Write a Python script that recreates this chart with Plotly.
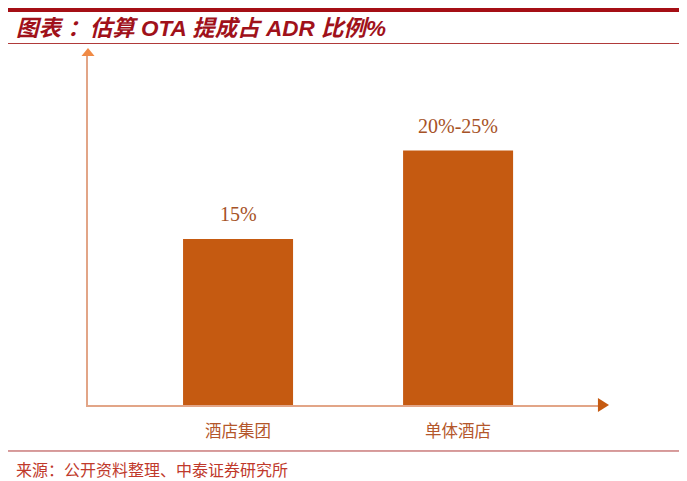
import plotly.graph_objects as go

# data
categories = ["酒店集团", "单体酒店"]
bar_values = [15, 23]          # bar heights (range 20%-25% drawn at ~23)
value_labels = ["15%", "20%-25%"]

title_text = "图表 ：估算 OTA 提成占 ADR 比例%"
source_text = "来源：公开资料整理、中泰证券研究所"

BAR_COLOR = "#C55A11"
AXIS_COLOR = "#E2A587"
RED = "#A50F15"

# the page has an 8px body margin, so the figure is 8px smaller than the window
W, H = 679, 473

fig = go.Figure()
fig.add_trace(go.Bar(
    x=categories,
    y=bar_values,
    width=0.5,
    marker=dict(color=BAR_COLOR, line=dict(width=0)),
    hoverinfo="skip",
))

# value labels above the bars
for cat, val, lab in zip(categories, bar_values, value_labels):
    fig.add_annotation(
        x=cat, y=val, text=lab, showarrow=False,
        yshift=25, yanchor="middle",
        font=dict(family="Liberation Serif, Noto Sans CJK SC", size=20, color="#A65226"),
    )

# source line at the bottom
fig.add_annotation(
    xref="paper", yref="paper", x=-0.1445, y=-0.1834,
    xanchor="left", yanchor="middle", showarrow=False,
    text=source_text,
    font=dict(family="Noto Sans CJK SC", size=16, color="#C0392B"),
)

shapes = [
    # thick red rule at the top
    dict(type="line", xref="paper", yref="paper", x0=-0.168, x1=1.164,
         y0=1.1318, y1=1.1318, line=dict(color=RED, width=4)),
    # thin rule under the title
    dict(type="line", xref="paper", yref="paper", x0=-0.168, x1=1.164,
         y0=1.0358, y1=1.0358, line=dict(color="#B03A3A", width=1)),
    # thin rule above the source
    dict(type="line", xref="paper", yref="paper", x0=-0.168, x1=1.164,
         y0=-0.1318, y1=-0.1318, line=dict(color="#B03A3A", width=1)),
    # arrow head on the y axis
    dict(type="path", xref="paper", yref="paper",
         path="M -0.0127,1.0 L 0.0127,1.0 L 0,1.0229 Z",
         fillcolor="#F08A45", line=dict(width=0)),
    # arrow head on the x axis
    dict(type="path", xref="paper", yref="paper",
         path="M 0.996,-0.02 L 0.996,0.02 L 1.0176,0 Z",
         fillcolor=BAR_COLOR, line=dict(width=0)),
]

fig.update_layout(
    width=W, height=H,
    margin=dict(l=80, r=87, t=48, b=76),
    paper_bgcolor="white", plot_bgcolor="white",
    showlegend=False,
    shapes=shapes,
    title=dict(
        text=title_text,
        x=8 / W, xanchor="left", xref="container",
        y=1 - 20 / H, yanchor="middle", yref="container",
        font=dict(family="Liberation Sans, Noto Sans CJK SC", size=22.5,
                  color="#A0111A", weight="bold", style="italic"),
    ),
    xaxis=dict(
        range=[-0.682, 1.645],
        showgrid=False, zeroline=False,
        showline=True, linecolor=AXIS_COLOR, linewidth=1.5,
        ticks="", ticklabelstandoff=10,
        tickfont=dict(family="Noto Sans CJK SC", size=16.5, color="#B4572B"),
        fixedrange=True,
    ),
    yaxis=dict(
        range=[0, 31.54],
        showgrid=False, zeroline=False,
        showline=True, linecolor=AXIS_COLOR, linewidth=1.5,
        showticklabels=False, ticks="",
        fixedrange=True,
    ),
)

fig.write_html("out.html")
